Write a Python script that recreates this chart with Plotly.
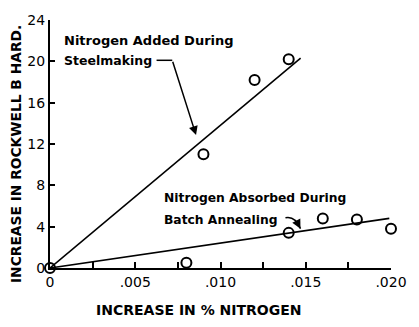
import plotly.graph_objects as go

# Data
steel_x = [0.0, 0.009, 0.012, 0.014]
steel_y = [0.0, 11.0, 18.2, 20.2]
steel_fit_x = [0.0, 0.0147]
steel_fit_y = [0.0, 20.3]

anneal_x = [0.008, 0.014, 0.016, 0.018, 0.020]
anneal_y = [0.5, 3.4, 4.8, 4.7, 3.8]
anneal_fit_x = [0.0, 0.0199]
anneal_fit_y = [0.0, 4.8]

x_tickvals = [0, 0.0025, 0.005, 0.0075, 0.010, 0.0125, 0.015, 0.0175, 0.020]
x_ticktext = ["0", "", ".005", "", ".010", "", ".015", "", ".020"]
y_tickvals = [0, 4, 8, 12, 16, 20, 24]
y_ticktext = ["0", "4", "8", "12", "16", "20", "24"]

FONT = "DejaVu Sans"

fig = go.Figure()
fig.add_trace(go.Scatter(x=steel_fit_x, y=steel_fit_y, mode="lines",
                         line=dict(color="black", width=1.6), cliponaxis=False))
fig.add_trace(go.Scatter(x=anneal_fit_x, y=anneal_fit_y, mode="lines",
                         line=dict(color="black", width=1.6), cliponaxis=False))
fig.add_trace(go.Scatter(x=steel_x, y=steel_y, mode="markers",
                         marker=dict(symbol="circle-open", size=10, color="black",
                                     line=dict(width=2)), cliponaxis=False))
fig.add_trace(go.Scatter(x=anneal_x, y=anneal_y, mode="markers",
                         marker=dict(symbol="circle-open", size=10, color="black",
                                     line=dict(width=2)), cliponaxis=False))

ann = [
    dict(x=0.0007, y=22.0, text="<b>Nitrogen Added During</b>", showarrow=False,
         xanchor="left", yanchor="middle", font=dict(family=FONT, size=13, color="black")),
    dict(x=0.0007, y=20.1, text="<b>Steelmaking</b>", showarrow=False,
         xanchor="left", yanchor="middle", font=dict(family=FONT, size=12.5, color="black")),
    dict(x=0.00659, y=6.76, text="<b>Nitrogen Absorbed During</b>", showarrow=False,
         xanchor="left", yanchor="middle", font=dict(family=FONT, size=12.3, color="black")),
    dict(x=0.00659, y=4.67, text="<b>Batch Annealing</b>", showarrow=False,
         xanchor="left", yanchor="middle", font=dict(family=FONT, size=12.3, color="black")),
    dict(x=0.008566, y=12.86, ax=0.00717, ay=20.1, axref="x", ayref="y",
         xref="x", yref="y", text="", showarrow=True, arrowhead=2,
         arrowsize=1.2, arrowwidth=1.5, arrowcolor="black", standoff=0),
    dict(x=0.01469, y=3.81, ax=0.01451, ay=4.38, axref="x", ayref="y",
         xref="x", yref="y", text="", showarrow=True, arrowhead=2,
         arrowsize=1.2, arrowwidth=1.5, arrowcolor="black", standoff=0),
    # axis titles
    dict(x=200, y=311, xref="paper", yref="paper", text="<b>INCREASE IN % NITROGEN</b>",
         showarrow=False, font=dict(family=FONT, size=14, color="black")),
    dict(x=16, y=152, xref="paper", yref="paper", text="<b>INCREASE IN ROCKWELL B HARD.</b>",
         textangle=-90, showarrow=False, font=dict(family=FONT, size=13.8, color="black")),
]
# convert pixel positions of axis titles to paper coordinates
W, H = 419, 327
L, R, T, B = 50, 26, 16, 59
for a in ann[-2:]:
    a["x"] = (a["x"] - L) / (W - L - R)
    a["y"] = (H - B - a["y"]) / (H - T - B)
    a["xanchor"] = "center"
    a["yanchor"] = "middle"
for a in ann:
    fig.add_annotation(**a)

fig.add_shape(type="line", x0=0.00625, x1=0.00717, y0=20.1, y1=20.1,
              xref="x", yref="y", line=dict(color="black", width=1.5))
fig.add_shape(type="path", path="M 0.01381,4.857 Q 0.01438,5.05 0.01469,3.81",
              xref="x", yref="y", line=dict(color="black", width=1.5))

fig.update_layout(
    width=W, height=H,
    margin=dict(l=L, r=R, t=T, b=B),
    paper_bgcolor="white", plot_bgcolor="white",
    showlegend=False,
    font=dict(family=FONT, color="black"),
    xaxis=dict(range=[0, 0.020], tickvals=x_tickvals, ticktext=x_ticktext,
               ticks="inside", ticklen=6, tickwidth=1.5, tickcolor="black",
               showline=True, linecolor="black", linewidth=2, showgrid=False,
               zeroline=False, tickfont=dict(family=FONT, size=14)),
    yaxis=dict(range=[0, 24], tickvals=y_tickvals, ticktext=y_ticktext,
               ticks="inside", ticklen=5, tickwidth=1.5, tickcolor="black",
               showline=True, linecolor="black", linewidth=2, showgrid=False,
               zeroline=False, tickfont=dict(family=FONT, size=14)),
)

fig.write_html("out.html")
